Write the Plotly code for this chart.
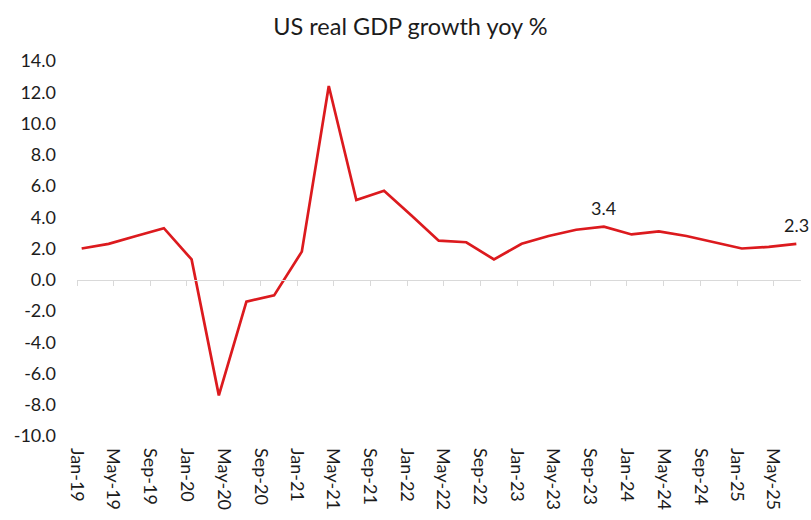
import pandas as pd
import plotly.graph_objects as go

# Quarterly US real GDP growth, year on year (%)
quarters = [
    "2019-01", "2019-04", "2019-07", "2019-10",
    "2020-01", "2020-04", "2020-07", "2020-10",
    "2021-01", "2021-04", "2021-07", "2021-10",
    "2022-01", "2022-04", "2022-07", "2022-10",
    "2023-01", "2023-04", "2023-07", "2023-10",
    "2024-01", "2024-04", "2024-07", "2024-10",
    "2025-01", "2025-04", "2025-07",
]
gdp_yoy = [
    2.0, 2.3, 2.8, 3.3,
    1.3, -7.4, -1.4, -1.0,
    1.8, 12.4, 5.1, 5.7,
    4.1, 2.5, 2.4, 1.3,
    2.3, 2.8, 3.2, 3.4,
    2.9, 3.1, 2.8, 2.4,
    2.0, 2.1, 2.3,
]
labelled = ["2023-10", "2025-07"]

y_ticks = list(range(-10, 16, 2))
y_tick_text = [f"{v:.1f}" for v in y_ticks]
x_start, x_end = "2019-01-01", "2025-08-01"

FONT = "Lato, 'Open Sans', sans-serif"
RED = "#DC1A1E"
TEXT = "#1c1c1c"


def mid_month(period):
    p = pd.Period(period, freq="M")
    return p.start_time + (p.end_time - p.start_time) / 2


fig = go.Figure()
fig.add_trace(go.Scatter(
    x=quarters, y=gdp_yoy,
    xperiod="M1", xperiodalignment="middle",
    mode="lines",
    line=dict(color=RED, width=2.7),
    showlegend=False,
    hoverinfo="skip",
))

# value labels above selected points
for q in labelled:
    v = gdp_yoy[quarters.index(q)]
    fig.add_annotation(
        x=mid_month(q), y=v, text=f"{v:.1f}", showarrow=False,
        xanchor="center", yanchor="middle", yshift=19,
        font=dict(family=FONT, size=18, color=TEXT),
    )

y_lo, y_hi = y_ticks[0], y_ticks[-1]
zero_pos = (0 - y_lo) / (y_hi - y_lo)

fig.update_layout(
    width=811, height=520,
    margin=dict(l=77, r=10, t=61, b=80),
    paper_bgcolor="white", plot_bgcolor="white",
    font=dict(family=FONT, color=TEXT),
    title=dict(text="US real GDP growth yoy %", x=0.506, xanchor="center",
               xref="container", y=0.948, yanchor="middle",
               font=dict(size=23.5, family=FONT, color=TEXT)),
    xaxis=dict(
        type="date", range=[x_start, x_end],
        tickformat="%b-%y", dtick="M4", tick0=x_start,
        tickangle=90, ticks="", showline=False, showgrid=False, zeroline=False,
        ticklabelstandoff=11,
        tickfont=dict(size=18, family=FONT, color=TEXT),
    ),
    # axis line drawn through zero with its tick marks
    xaxis2=dict(
        type="date", range=[x_start, x_end], dtick="M4", tick0=x_start,
        overlaying="x", anchor="free", position=zero_pos,
        showticklabels=False, showgrid=False, zeroline=False,
        showline=True, linecolor="#d9d9d9", linewidth=1,
        ticks="outside", ticklen=5, tickcolor="#d9d9d9",
    ),
    yaxis=dict(
        range=[y_lo, y_hi], tickvals=y_ticks, ticktext=y_tick_text,
        showgrid=False, zeroline=False, showline=False,
        tickfont=dict(size=18, family=FONT, color=TEXT),
        ticklabelstandoff=20,
    ),
)
# invisible trace to activate the zero-line axis
fig.add_trace(go.Scatter(x=[x_start], y=[None], xaxis="x2", showlegend=False, hoverinfo="skip"))

fig.write_html("out.html")
